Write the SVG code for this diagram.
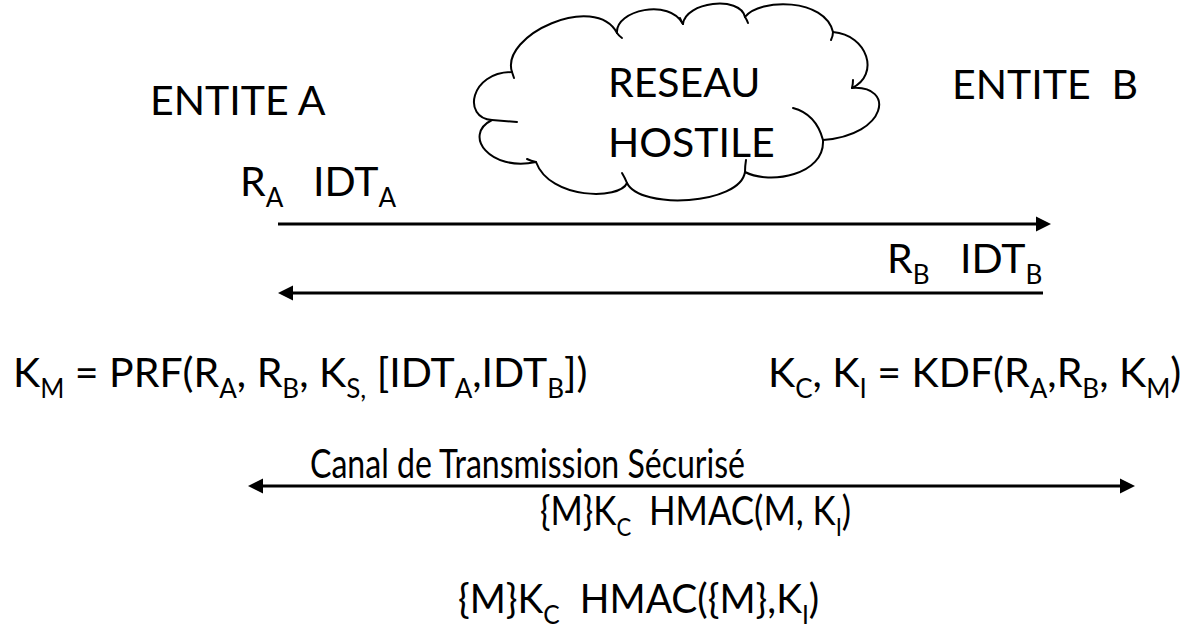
<svg xmlns="http://www.w3.org/2000/svg" width="1191" height="633" viewBox="0 0 1191 633">
  <style>
    .t { font-family: Lato, "Liberation Sans", sans-serif; font-size: 41px; fill: #000; }
    .sub { font-size: 26px; }
    .cloud { fill: #fff; stroke: #000; stroke-width: 2; stroke-linejoin: round; }
    .stub { fill: none; stroke: #000; stroke-width: 2; stroke-linecap: round; }
    .msg { stroke: #000; stroke-width: 3; fill: none; }
  </style>
  <defs>
    <marker id="ah" viewBox="0 0 15 16" refX="2" refY="8" markerWidth="15" markerHeight="16" markerUnits="userSpaceOnUse" orient="auto-start-reverse">
      <path d="M0,0.5 L15,8 L0,15.5 Z" fill="#000"/>
    </marker>
  </defs>
  <rect width="1191" height="633" fill="#fff"/>

  <!-- Hostile network cloud -->
  <g id="reseau">
    <path class="cloud" d="M512,72
      C500,35 595,-8 617,33
      C615,10 670,-2 683,24
      C685,2 740,-5 745,17
      C760,-2 825,-2 833,32
      C868,35 880,75 852,88
      C895,85 888,135 823,140
      C825,175 770,185 745,172
      C740,205 640,210 627,183
      C620,200 550,200 536,162
      C490,172 462,135 492,120
      C462,118 470,72 512,72 Z"/>
    <path class="stub" d="M512,72 Q513,75 514,78"/>
    <path class="stub" d="M617,33 Q619,36 622,38"/>
    <path class="stub" d="M683,24 Q681,21 680,18"/>
    <path class="stub" d="M745,17 Q747,20 748,23"/>
    <path class="stub" d="M833,32 Q833,36 831,40"/>
    <path class="stub" d="M852,88 Q853,84 853,80"/>
    <path class="stub" d="M793,108 Q816,114 823,140"/>
    <path class="stub" d="M745,172 Q745,166 746,160"/>
    <path class="stub" d="M627,183 Q625,178 622,173"/>
    <path class="stub" d="M536,162 Q531,161 527,159"/>
    <path class="stub" d="M492,120 Q505,121 517,122"/>
    <text class="t" x="608" y="97">RESEAU</text>
    <text class="t" x="608" y="157">HOSTILE</text>
  </g>

  <g id="entite-a">
    <text class="t" x="150" y="115">ENTITE A</text>
  </g>
  <g id="entite-b">
    <text class="t" x="952" y="99" xml:space="preserve">ENTITE  B</text>
  </g>

  <!-- Exchanged nonces and identities -->
  <g id="msg-a">
    <text class="t" x="240" y="196">R<tspan class="sub" dy="11">A</tspan><tspan x="313" dy="-11">IDT</tspan><tspan class="sub" dy="11">A</tspan></text>
  </g>
  <g id="msg-b">
    <text class="t" x="887" y="273">R<tspan class="sub" dy="11">B</tspan><tspan x="960" dy="-11">IDT</tspan><tspan class="sub" dy="11">B</tspan></text>
  </g>

  <!-- Key derivation -->
  <g id="km">
    <text class="t" x="13" y="387" xml:space="preserve">K<tspan class="sub" dy="11">M</tspan><tspan dy="-11"> = PRF(R</tspan><tspan class="sub" dy="11">A</tspan><tspan dy="-11">, R</tspan><tspan class="sub" dy="11">B</tspan><tspan dy="-11">, K</tspan><tspan class="sub" dy="11">S,</tspan><tspan dy="-11"> [IDT</tspan><tspan class="sub" dy="11">A</tspan><tspan dy="-11">,IDT</tspan><tspan class="sub" dy="11">B</tspan><tspan dy="-11">])</tspan></text>
  </g>
  <g id="kc-ki">
    <text class="t" x="768" y="387" xml:space="preserve">K<tspan class="sub" dy="11">C</tspan><tspan dy="-11">, K</tspan><tspan class="sub" dy="11">I</tspan><tspan dy="-11"> = KDF(R</tspan><tspan class="sub" dy="11">A</tspan><tspan dy="-11">,R</tspan><tspan class="sub" dy="11">B</tspan><tspan dy="-11">, K</tspan><tspan class="sub" dy="11">M</tspan><tspan dy="-11">)</tspan></text>
  </g>

  <!-- Secure channel (condensed labels) -->
  <g id="canal">
    <text class="t" x="310" y="478" textLength="435" lengthAdjust="spacingAndGlyphs">Canal de Transmission Sécurisé</text>
    <text class="t" x="540" y="525" xml:space="preserve" transform="translate(540 0) scale(0.85 1) translate(-540 0)">{M}K<tspan class="sub" dy="11">C</tspan><tspan dy="-11">  HMAC(M, K</tspan><tspan class="sub" dy="11">I</tspan><tspan dy="-11">)</tspan></text>
  </g>
  <g id="format">
    <text class="t" x="458" y="613" xml:space="preserve" transform="translate(458 0) scale(0.95 1) translate(-458 0)">{M}K<tspan class="sub" dy="11">C</tspan><tspan dy="-11">  HMAC({M},K</tspan><tspan class="sub" dy="11">I</tspan><tspan dy="-11">)</tspan></text>
  </g>

  <g id="connectors">
    <line class="msg" x1="278" y1="224" x2="1038" y2="224" marker-end="url(#ah)"/>
    <line class="msg" x1="1043" y1="293" x2="291" y2="293" marker-end="url(#ah)"/>
    <line class="msg" x1="261" y1="486" x2="1122" y2="486" marker-start="url(#ah)" marker-end="url(#ah)"/>
  </g>
</svg>
